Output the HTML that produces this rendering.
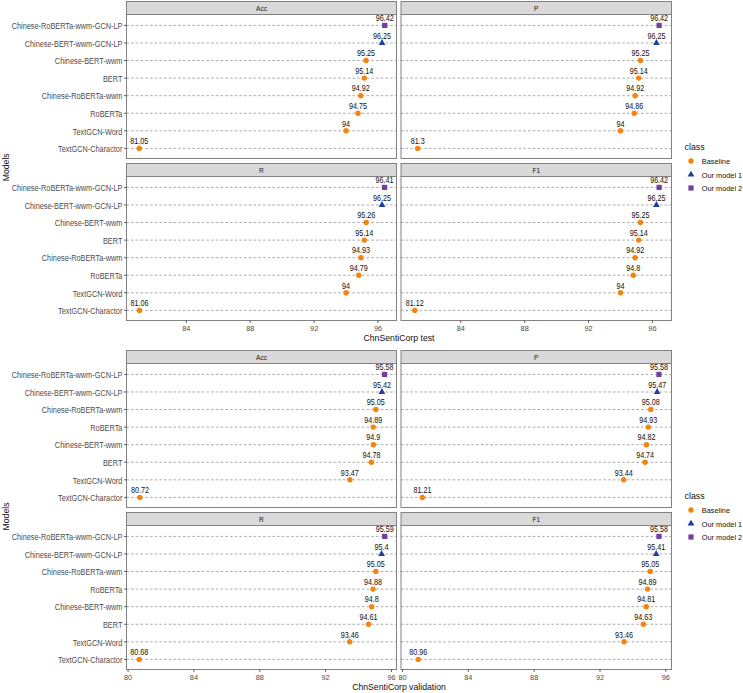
<!DOCTYPE html>
<html><head><meta charset="utf-8"><title>Models</title><style>
html,body{margin:0;padding:0;background:#fff;}
body{width:743px;height:693px;overflow:hidden;}
svg{display:block;font-family:"Liberation Sans",sans-serif;}
.g{stroke:#ababab;stroke-width:1;stroke-dasharray:2.6 2.11;}
.tk{stroke:#4d4d4d;stroke-width:1;}
.st{font-size:7.0px;fill:#1a1a1a;text-anchor:middle;}
.yt{font-size:7.35px;fill:#4D4D4D;text-anchor:end;}
.xt{font-size:7.35px;fill:#4D4D4D;text-anchor:middle;}
.lb{font-size:7.2px;fill:#111;text-anchor:middle;}
.tt{font-size:8.7px;fill:#111;text-anchor:middle;}
.lt{font-size:8.8px;fill:#111;}
.ll{font-size:7.35px;fill:#111;}
</style></head>
<body><svg width="743" height="693" viewBox="0 0 743 693">
<rect width="743" height="693" fill="#fff"/>
<rect x="126.5" y="1.5" width="270" height="13" fill="#D9D9D9" stroke="#828282" stroke-width="1"/>
<text class="st" transform="translate(261.5 11.3) scale(0.94 1.08)">Acc</text>
<line x1="126.34" y1="25.4" x2="396" y2="25.4" class="g"/>
<line x1="126.34" y1="42.97" x2="396" y2="42.97" class="g"/>
<line x1="126.34" y1="60.54" x2="396" y2="60.54" class="g"/>
<line x1="126.34" y1="78.11" x2="396" y2="78.11" class="g"/>
<line x1="126.34" y1="95.68" x2="396" y2="95.68" class="g"/>
<line x1="126.34" y1="113.25" x2="396" y2="113.25" class="g"/>
<line x1="126.34" y1="130.82" x2="396" y2="130.82" class="g"/>
<line x1="126.34" y1="148.39" x2="396" y2="148.39" class="g"/>
<rect x="126.5" y="14.5" width="270" height="144" fill="none" stroke="#828282" stroke-width="1"/>
<line x1="124.2" y1="25.4" x2="126.5" y2="25.4" class="tk"/>
<text class="yt" transform="translate(122.4 29.1) scale(1.0 1.11)">Chinese-RoBERTa-wwm-GCN-LP</text>
<line x1="124.2" y1="42.97" x2="126.5" y2="42.97" class="tk"/>
<text class="yt" transform="translate(122.4 46.67) scale(1.0 1.11)">Chinese-BERT-wwm-GCN-LP</text>
<line x1="124.2" y1="60.54" x2="126.5" y2="60.54" class="tk"/>
<text class="yt" transform="translate(122.4 64.24) scale(1.0 1.11)">Chinese-BERT-wwm</text>
<line x1="124.2" y1="78.11" x2="126.5" y2="78.11" class="tk"/>
<text class="yt" transform="translate(122.4 81.81) scale(1.0 1.11)">BERT</text>
<line x1="124.2" y1="95.68" x2="126.5" y2="95.68" class="tk"/>
<text class="yt" transform="translate(122.4 99.38) scale(1.0 1.11)">Chinese-RoBERTa-wwm</text>
<line x1="124.2" y1="113.25" x2="126.5" y2="113.25" class="tk"/>
<text class="yt" transform="translate(122.4 116.95) scale(1.0 1.11)">RoBERTa</text>
<line x1="124.2" y1="130.82" x2="126.5" y2="130.82" class="tk"/>
<text class="yt" transform="translate(122.4 134.52) scale(1.0 1.11)">TextGCN-Word</text>
<line x1="124.2" y1="148.39" x2="126.5" y2="148.39" class="tk"/>
<text class="yt" transform="translate(122.4 152.09) scale(1.0 1.11)">TextGCN-Charactor</text>
<rect x="382.13" y="22.8" width="5.2" height="5.2" fill="#7140A0"/>
<text class="lb" transform="translate(384.73 21.1) scale(1.0 1.15)">96.42</text>
<path d="M382.01 39.1L385.36 44.9L378.66 44.9Z" fill="#1F3F9F"/>
<text class="lb" transform="translate(382.01 38.67) scale(1.0 1.15)">96.25</text>
<circle cx="366.04" cy="60.54" r="2.7" fill="#F5840F"/>
<text class="lb" transform="translate(366.04 56.24) scale(1.0 1.15)">95.25</text>
<circle cx="364.29" cy="78.11" r="2.7" fill="#F5840F"/>
<text class="lb" transform="translate(364.29 73.81) scale(1.0 1.15)">95.14</text>
<circle cx="360.77" cy="95.68" r="2.7" fill="#F5840F"/>
<text class="lb" transform="translate(360.77 91.38) scale(1.0 1.15)">94.92</text>
<circle cx="358.06" cy="113.25" r="2.7" fill="#F5840F"/>
<text class="lb" transform="translate(358.06 108.95) scale(1.0 1.15)">94.75</text>
<circle cx="346.08" cy="130.82" r="2.7" fill="#F5840F"/>
<text class="lb" transform="translate(346.08 126.52) scale(1.0 1.15)">94</text>
<circle cx="139.27" cy="148.39" r="2.7" fill="#F5840F"/>
<text class="lb" transform="translate(139.27 144.09) scale(1.0 1.15)">81.05</text>
<rect x="401" y="1.5" width="270.5" height="13" fill="#D9D9D9" stroke="#828282" stroke-width="1"/>
<text class="st" transform="translate(536.25 11.3) scale(0.94 1.08)">P</text>
<line x1="400.84" y1="25.4" x2="671" y2="25.4" class="g"/>
<line x1="400.84" y1="42.97" x2="671" y2="42.97" class="g"/>
<line x1="400.84" y1="60.54" x2="671" y2="60.54" class="g"/>
<line x1="400.84" y1="78.11" x2="671" y2="78.11" class="g"/>
<line x1="400.84" y1="95.68" x2="671" y2="95.68" class="g"/>
<line x1="400.84" y1="113.25" x2="671" y2="113.25" class="g"/>
<line x1="400.84" y1="130.82" x2="671" y2="130.82" class="g"/>
<line x1="400.84" y1="148.39" x2="671" y2="148.39" class="g"/>
<rect x="401" y="14.5" width="270.5" height="144" fill="none" stroke="#828282" stroke-width="1"/>
<rect x="656.53" y="22.8" width="5.2" height="5.2" fill="#7140A0"/>
<text class="lb" transform="translate(659.13 21.1) scale(1.0 1.15)">96.42</text>
<path d="M656.41 39.1L659.76 44.9L653.06 44.9Z" fill="#1F3F9F"/>
<text class="lb" transform="translate(656.41 38.67) scale(1.0 1.15)">96.25</text>
<circle cx="640.44" cy="60.54" r="2.7" fill="#F5840F"/>
<text class="lb" transform="translate(640.44 56.24) scale(1.0 1.15)">95.25</text>
<circle cx="638.69" cy="78.11" r="2.7" fill="#F5840F"/>
<text class="lb" transform="translate(638.69 73.81) scale(1.0 1.15)">95.14</text>
<circle cx="635.17" cy="95.68" r="2.7" fill="#F5840F"/>
<text class="lb" transform="translate(635.17 91.38) scale(1.0 1.15)">94.92</text>
<circle cx="634.21" cy="113.25" r="2.7" fill="#F5840F"/>
<text class="lb" transform="translate(634.21 108.95) scale(1.0 1.15)">94.86</text>
<circle cx="620.48" cy="130.82" r="2.7" fill="#F5840F"/>
<text class="lb" transform="translate(620.48 126.52) scale(1.0 1.15)">94</text>
<circle cx="417.67" cy="148.39" r="2.7" fill="#F5840F"/>
<text class="lb" transform="translate(417.67 144.09) scale(1.0 1.15)">81.3</text>
<rect x="126.5" y="163.5" width="270" height="13" fill="#D9D9D9" stroke="#828282" stroke-width="1"/>
<text class="st" transform="translate(261.5 173.3) scale(0.94 1.08)">R</text>
<line x1="126.34" y1="187.4" x2="396" y2="187.4" class="g"/>
<line x1="126.34" y1="204.97" x2="396" y2="204.97" class="g"/>
<line x1="126.34" y1="222.54" x2="396" y2="222.54" class="g"/>
<line x1="126.34" y1="240.11" x2="396" y2="240.11" class="g"/>
<line x1="126.34" y1="257.68" x2="396" y2="257.68" class="g"/>
<line x1="126.34" y1="275.25" x2="396" y2="275.25" class="g"/>
<line x1="126.34" y1="292.82" x2="396" y2="292.82" class="g"/>
<line x1="126.34" y1="310.39" x2="396" y2="310.39" class="g"/>
<rect x="126.5" y="176.5" width="270" height="144" fill="none" stroke="#828282" stroke-width="1"/>
<line x1="124.2" y1="187.4" x2="126.5" y2="187.4" class="tk"/>
<text class="yt" transform="translate(122.4 191.1) scale(1.0 1.11)">Chinese-RoBERTa-wwm-GCN-LP</text>
<line x1="124.2" y1="204.97" x2="126.5" y2="204.97" class="tk"/>
<text class="yt" transform="translate(122.4 208.67) scale(1.0 1.11)">Chinese-BERT-wwm-GCN-LP</text>
<line x1="124.2" y1="222.54" x2="126.5" y2="222.54" class="tk"/>
<text class="yt" transform="translate(122.4 226.24) scale(1.0 1.11)">Chinese-BERT-wwm</text>
<line x1="124.2" y1="240.11" x2="126.5" y2="240.11" class="tk"/>
<text class="yt" transform="translate(122.4 243.81) scale(1.0 1.11)">BERT</text>
<line x1="124.2" y1="257.68" x2="126.5" y2="257.68" class="tk"/>
<text class="yt" transform="translate(122.4 261.38) scale(1.0 1.11)">Chinese-RoBERTa-wwm</text>
<line x1="124.2" y1="275.25" x2="126.5" y2="275.25" class="tk"/>
<text class="yt" transform="translate(122.4 278.95) scale(1.0 1.11)">RoBERTa</text>
<line x1="124.2" y1="292.82" x2="126.5" y2="292.82" class="tk"/>
<text class="yt" transform="translate(122.4 296.52) scale(1.0 1.11)">TextGCN-Word</text>
<line x1="124.2" y1="310.39" x2="126.5" y2="310.39" class="tk"/>
<text class="yt" transform="translate(122.4 314.09) scale(1.0 1.11)">TextGCN-Charactor</text>
<line x1="186.38" y1="320.5" x2="186.38" y2="322.8" class="tk"/>
<text x="186.38" y="330.6" class="xt">84</text>
<line x1="250.26" y1="320.5" x2="250.26" y2="322.8" class="tk"/>
<text x="250.26" y="330.6" class="xt">88</text>
<line x1="314.14" y1="320.5" x2="314.14" y2="322.8" class="tk"/>
<text x="314.14" y="330.6" class="xt">92</text>
<line x1="378.02" y1="320.5" x2="378.02" y2="322.8" class="tk"/>
<text x="378.02" y="330.6" class="xt">96</text>
<rect x="381.97" y="184.8" width="5.2" height="5.2" fill="#7140A0"/>
<text class="lb" transform="translate(384.57 183.1) scale(1.0 1.15)">96.41</text>
<path d="M382.01 201.1L385.36 206.9L378.66 206.9Z" fill="#1F3F9F"/>
<text class="lb" transform="translate(382.01 200.67) scale(1.0 1.15)">96.25</text>
<circle cx="366.2" cy="222.54" r="2.7" fill="#F5840F"/>
<text class="lb" transform="translate(366.2 218.24) scale(1.0 1.15)">95.26</text>
<circle cx="364.29" cy="240.11" r="2.7" fill="#F5840F"/>
<text class="lb" transform="translate(364.29 235.81) scale(1.0 1.15)">95.14</text>
<circle cx="360.93" cy="257.68" r="2.7" fill="#F5840F"/>
<text class="lb" transform="translate(360.93 253.38) scale(1.0 1.15)">94.93</text>
<circle cx="358.7" cy="275.25" r="2.7" fill="#F5840F"/>
<text class="lb" transform="translate(358.7 270.95) scale(1.0 1.15)">94.79</text>
<circle cx="346.08" cy="292.82" r="2.7" fill="#F5840F"/>
<text class="lb" transform="translate(346.08 288.52) scale(1.0 1.15)">94</text>
<circle cx="139.43" cy="310.39" r="2.7" fill="#F5840F"/>
<text class="lb" transform="translate(139.43 306.09) scale(1.0 1.15)">81.06</text>
<rect x="401" y="163.5" width="270.5" height="13" fill="#D9D9D9" stroke="#828282" stroke-width="1"/>
<text class="st" transform="translate(536.25 173.3) scale(0.94 1.08)">F1</text>
<line x1="400.84" y1="187.4" x2="671" y2="187.4" class="g"/>
<line x1="400.84" y1="204.97" x2="671" y2="204.97" class="g"/>
<line x1="400.84" y1="222.54" x2="671" y2="222.54" class="g"/>
<line x1="400.84" y1="240.11" x2="671" y2="240.11" class="g"/>
<line x1="400.84" y1="257.68" x2="671" y2="257.68" class="g"/>
<line x1="400.84" y1="275.25" x2="671" y2="275.25" class="g"/>
<line x1="400.84" y1="292.82" x2="671" y2="292.82" class="g"/>
<line x1="400.84" y1="310.39" x2="671" y2="310.39" class="g"/>
<rect x="401" y="176.5" width="270.5" height="144" fill="none" stroke="#828282" stroke-width="1"/>
<line x1="460.78" y1="320.5" x2="460.78" y2="322.8" class="tk"/>
<text x="460.78" y="330.6" class="xt">84</text>
<line x1="524.66" y1="320.5" x2="524.66" y2="322.8" class="tk"/>
<text x="524.66" y="330.6" class="xt">88</text>
<line x1="588.54" y1="320.5" x2="588.54" y2="322.8" class="tk"/>
<text x="588.54" y="330.6" class="xt">92</text>
<line x1="652.42" y1="320.5" x2="652.42" y2="322.8" class="tk"/>
<text x="652.42" y="330.6" class="xt">96</text>
<rect x="656.53" y="184.8" width="5.2" height="5.2" fill="#7140A0"/>
<text class="lb" transform="translate(659.13 183.1) scale(1.0 1.15)">96.42</text>
<path d="M656.41 201.1L659.76 206.9L653.06 206.9Z" fill="#1F3F9F"/>
<text class="lb" transform="translate(656.41 200.67) scale(1.0 1.15)">96.25</text>
<circle cx="640.44" cy="222.54" r="2.7" fill="#F5840F"/>
<text class="lb" transform="translate(640.44 218.24) scale(1.0 1.15)">95.25</text>
<circle cx="638.69" cy="240.11" r="2.7" fill="#F5840F"/>
<text class="lb" transform="translate(638.69 235.81) scale(1.0 1.15)">95.14</text>
<circle cx="635.17" cy="257.68" r="2.7" fill="#F5840F"/>
<text class="lb" transform="translate(635.17 253.38) scale(1.0 1.15)">94.92</text>
<circle cx="633.26" cy="275.25" r="2.7" fill="#F5840F"/>
<text class="lb" transform="translate(633.26 270.95) scale(1.0 1.15)">94.8</text>
<circle cx="620.48" cy="292.82" r="2.7" fill="#F5840F"/>
<text class="lb" transform="translate(620.48 288.52) scale(1.0 1.15)">94</text>
<circle cx="414.79" cy="310.39" r="2.7" fill="#F5840F"/>
<text class="lb" transform="translate(414.79 306.09) scale(1.0 1.15)">81.12</text>
<text x="399" y="341" class="tt">ChnSentiCorp test</text>
<text x="0" y="0" class="tt" transform="translate(8.5 167.3) rotate(-90)">Models</text>
<text x="684.6" y="149.6" class="lt">class</text>
<circle cx="691" cy="161" r="2.7" fill="#F5840F"/>
<text x="701.8" y="164.3" class="ll">Baseline</text>
<path d="M691 170.63L694.35 176.43L687.65 176.43Z" fill="#1F3F9F"/>
<text x="701.8" y="177.8" class="ll">Our model 1</text>
<rect x="688.4" y="185.4" width="5.2" height="5.2" fill="#7140A0"/>
<text x="701.8" y="191.3" class="ll">Our model 2</text>
<rect x="126.5" y="350.5" width="270" height="13" fill="#D9D9D9" stroke="#828282" stroke-width="1"/>
<text class="st" transform="translate(261.5 360.3) scale(0.94 1.08)">Acc</text>
<line x1="126.34" y1="374.4" x2="396" y2="374.4" class="g"/>
<line x1="126.34" y1="391.97" x2="396" y2="391.97" class="g"/>
<line x1="126.34" y1="409.54" x2="396" y2="409.54" class="g"/>
<line x1="126.34" y1="427.11" x2="396" y2="427.11" class="g"/>
<line x1="126.34" y1="444.68" x2="396" y2="444.68" class="g"/>
<line x1="126.34" y1="462.25" x2="396" y2="462.25" class="g"/>
<line x1="126.34" y1="479.82" x2="396" y2="479.82" class="g"/>
<line x1="126.34" y1="497.39" x2="396" y2="497.39" class="g"/>
<rect x="126.5" y="363.5" width="270" height="144" fill="none" stroke="#828282" stroke-width="1"/>
<line x1="124.2" y1="374.4" x2="126.5" y2="374.4" class="tk"/>
<text class="yt" transform="translate(122.4 378.1) scale(1.0 1.11)">Chinese-RoBERTa-wwm-GCN-LP</text>
<line x1="124.2" y1="391.97" x2="126.5" y2="391.97" class="tk"/>
<text class="yt" transform="translate(122.4 395.67) scale(1.0 1.11)">Chinese-BERT-wwm-GCN-LP</text>
<line x1="124.2" y1="409.54" x2="126.5" y2="409.54" class="tk"/>
<text class="yt" transform="translate(122.4 413.24) scale(1.0 1.11)">Chinese-RoBERTa-wwm</text>
<line x1="124.2" y1="427.11" x2="126.5" y2="427.11" class="tk"/>
<text class="yt" transform="translate(122.4 430.81) scale(1.0 1.11)">RoBERTa</text>
<line x1="124.2" y1="444.68" x2="126.5" y2="444.68" class="tk"/>
<text class="yt" transform="translate(122.4 448.38) scale(1.0 1.11)">Chinese-BERT-wwm</text>
<line x1="124.2" y1="462.25" x2="126.5" y2="462.25" class="tk"/>
<text class="yt" transform="translate(122.4 465.95) scale(1.0 1.11)">BERT</text>
<line x1="124.2" y1="479.82" x2="126.5" y2="479.82" class="tk"/>
<text class="yt" transform="translate(122.4 483.52) scale(1.0 1.11)">TextGCN-Word</text>
<line x1="124.2" y1="497.39" x2="126.5" y2="497.39" class="tk"/>
<text class="yt" transform="translate(122.4 501.09) scale(1.0 1.11)">TextGCN-Charactor</text>
<rect x="381.96" y="371.8" width="5.2" height="5.2" fill="#7140A0"/>
<text class="lb" transform="translate(384.56 370.1) scale(1.0 1.15)">95.58</text>
<path d="M381.93 388.1L385.28 393.9L378.58 393.9Z" fill="#1F3F9F"/>
<text class="lb" transform="translate(381.93 387.67) scale(1.0 1.15)">95.42</text>
<circle cx="375.84" cy="409.54" r="2.7" fill="#F5840F"/>
<text class="lb" transform="translate(375.84 405.24) scale(1.0 1.15)">95.05</text>
<circle cx="373.2" cy="427.11" r="2.7" fill="#F5840F"/>
<text class="lb" transform="translate(373.2 422.81) scale(1.0 1.15)">94.89</text>
<circle cx="373.37" cy="444.68" r="2.7" fill="#F5840F"/>
<text class="lb" transform="translate(373.37 440.38) scale(1.0 1.15)">94.9</text>
<circle cx="371.39" cy="462.25" r="2.7" fill="#F5840F"/>
<text class="lb" transform="translate(371.39 457.95) scale(1.0 1.15)">94.78</text>
<circle cx="349.83" cy="479.82" r="2.7" fill="#F5840F"/>
<text class="lb" transform="translate(349.83 475.52) scale(1.0 1.15)">93.47</text>
<circle cx="139.93" cy="497.39" r="2.7" fill="#F5840F"/>
<text class="lb" transform="translate(139.93 493.09) scale(1.0 1.15)">80.72</text>
<rect x="401" y="350.5" width="270.5" height="13" fill="#D9D9D9" stroke="#828282" stroke-width="1"/>
<text class="st" transform="translate(536.25 360.3) scale(0.94 1.08)">P</text>
<line x1="400.84" y1="374.4" x2="671" y2="374.4" class="g"/>
<line x1="400.84" y1="391.97" x2="671" y2="391.97" class="g"/>
<line x1="400.84" y1="409.54" x2="671" y2="409.54" class="g"/>
<line x1="400.84" y1="427.11" x2="671" y2="427.11" class="g"/>
<line x1="400.84" y1="444.68" x2="671" y2="444.68" class="g"/>
<line x1="400.84" y1="462.25" x2="671" y2="462.25" class="g"/>
<line x1="400.84" y1="479.82" x2="671" y2="479.82" class="g"/>
<line x1="400.84" y1="497.39" x2="671" y2="497.39" class="g"/>
<rect x="401" y="363.5" width="270.5" height="144" fill="none" stroke="#828282" stroke-width="1"/>
<rect x="656.36" y="371.8" width="5.2" height="5.2" fill="#7140A0"/>
<text class="lb" transform="translate(658.96 370.1) scale(1.0 1.15)">95.58</text>
<path d="M657.15 388.1L660.5 393.9L653.8 393.9Z" fill="#1F3F9F"/>
<text class="lb" transform="translate(657.15 387.67) scale(1.0 1.15)">95.47</text>
<circle cx="650.73" cy="409.54" r="2.7" fill="#F5840F"/>
<text class="lb" transform="translate(650.73 405.24) scale(1.0 1.15)">95.08</text>
<circle cx="648.26" cy="427.11" r="2.7" fill="#F5840F"/>
<text class="lb" transform="translate(648.26 422.81) scale(1.0 1.15)">94.93</text>
<circle cx="646.45" cy="444.68" r="2.7" fill="#F5840F"/>
<text class="lb" transform="translate(646.45 440.38) scale(1.0 1.15)">94.82</text>
<circle cx="645.13" cy="462.25" r="2.7" fill="#F5840F"/>
<text class="lb" transform="translate(645.13 457.95) scale(1.0 1.15)">94.74</text>
<circle cx="623.73" cy="479.82" r="2.7" fill="#F5840F"/>
<text class="lb" transform="translate(623.73 475.52) scale(1.0 1.15)">93.44</text>
<circle cx="422.4" cy="497.39" r="2.7" fill="#F5840F"/>
<text class="lb" transform="translate(422.4 493.09) scale(1.0 1.15)">81.21</text>
<rect x="126.5" y="512.5" width="270" height="13" fill="#D9D9D9" stroke="#828282" stroke-width="1"/>
<text class="st" transform="translate(261.5 522.3) scale(0.94 1.08)">R</text>
<line x1="126.34" y1="536.4" x2="396" y2="536.4" class="g"/>
<line x1="126.34" y1="553.97" x2="396" y2="553.97" class="g"/>
<line x1="126.34" y1="571.54" x2="396" y2="571.54" class="g"/>
<line x1="126.34" y1="589.11" x2="396" y2="589.11" class="g"/>
<line x1="126.34" y1="606.68" x2="396" y2="606.68" class="g"/>
<line x1="126.34" y1="624.25" x2="396" y2="624.25" class="g"/>
<line x1="126.34" y1="641.82" x2="396" y2="641.82" class="g"/>
<line x1="126.34" y1="659.39" x2="396" y2="659.39" class="g"/>
<rect x="126.5" y="525.5" width="270" height="144" fill="none" stroke="#828282" stroke-width="1"/>
<line x1="124.2" y1="536.4" x2="126.5" y2="536.4" class="tk"/>
<text class="yt" transform="translate(122.4 540.1) scale(1.0 1.11)">Chinese-RoBERTa-wwm-GCN-LP</text>
<line x1="124.2" y1="553.97" x2="126.5" y2="553.97" class="tk"/>
<text class="yt" transform="translate(122.4 557.67) scale(1.0 1.11)">Chinese-BERT-wwm-GCN-LP</text>
<line x1="124.2" y1="571.54" x2="126.5" y2="571.54" class="tk"/>
<text class="yt" transform="translate(122.4 575.24) scale(1.0 1.11)">Chinese-RoBERTa-wwm</text>
<line x1="124.2" y1="589.11" x2="126.5" y2="589.11" class="tk"/>
<text class="yt" transform="translate(122.4 592.81) scale(1.0 1.11)">RoBERTa</text>
<line x1="124.2" y1="606.68" x2="126.5" y2="606.68" class="tk"/>
<text class="yt" transform="translate(122.4 610.38) scale(1.0 1.11)">Chinese-BERT-wwm</text>
<line x1="124.2" y1="624.25" x2="126.5" y2="624.25" class="tk"/>
<text class="yt" transform="translate(122.4 627.95) scale(1.0 1.11)">BERT</text>
<line x1="124.2" y1="641.82" x2="126.5" y2="641.82" class="tk"/>
<text class="yt" transform="translate(122.4 645.52) scale(1.0 1.11)">TextGCN-Word</text>
<line x1="124.2" y1="659.39" x2="126.5" y2="659.39" class="tk"/>
<text class="yt" transform="translate(122.4 663.09) scale(1.0 1.11)">TextGCN-Charactor</text>
<line x1="128.08" y1="669.5" x2="128.08" y2="671.8" class="tk"/>
<text x="128.08" y="679.6" class="xt">80</text>
<line x1="193.93" y1="669.5" x2="193.93" y2="671.8" class="tk"/>
<text x="193.93" y="679.6" class="xt">84</text>
<line x1="259.78" y1="669.5" x2="259.78" y2="671.8" class="tk"/>
<text x="259.78" y="679.6" class="xt">88</text>
<line x1="325.63" y1="669.5" x2="325.63" y2="671.8" class="tk"/>
<text x="325.63" y="679.6" class="xt">92</text>
<line x1="391.48" y1="669.5" x2="391.48" y2="671.8" class="tk"/>
<text x="391.48" y="679.6" class="xt">96</text>
<rect x="382.13" y="533.8" width="5.2" height="5.2" fill="#7140A0"/>
<text class="lb" transform="translate(384.73 532.1) scale(1.0 1.15)">95.59</text>
<path d="M381.6 550.1L384.95 555.9L378.25 555.9Z" fill="#1F3F9F"/>
<text class="lb" transform="translate(381.6 549.67) scale(1.0 1.15)">95.4</text>
<circle cx="375.84" cy="571.54" r="2.7" fill="#F5840F"/>
<text class="lb" transform="translate(375.84 567.24) scale(1.0 1.15)">95.05</text>
<circle cx="373.04" cy="589.11" r="2.7" fill="#F5840F"/>
<text class="lb" transform="translate(373.04 584.81) scale(1.0 1.15)">94.88</text>
<circle cx="371.72" cy="606.68" r="2.7" fill="#F5840F"/>
<text class="lb" transform="translate(371.72 602.38) scale(1.0 1.15)">94.8</text>
<circle cx="368.59" cy="624.25" r="2.7" fill="#F5840F"/>
<text class="lb" transform="translate(368.59 619.95) scale(1.0 1.15)">94.61</text>
<circle cx="349.66" cy="641.82" r="2.7" fill="#F5840F"/>
<text class="lb" transform="translate(349.66 637.52) scale(1.0 1.15)">93.46</text>
<circle cx="139.27" cy="659.39" r="2.7" fill="#F5840F"/>
<text class="lb" transform="translate(139.27 655.09) scale(1.0 1.15)">80.68</text>
<rect x="401" y="512.5" width="270.5" height="13" fill="#D9D9D9" stroke="#828282" stroke-width="1"/>
<text class="st" transform="translate(536.25 522.3) scale(0.94 1.08)">F1</text>
<line x1="400.84" y1="536.4" x2="671" y2="536.4" class="g"/>
<line x1="400.84" y1="553.97" x2="671" y2="553.97" class="g"/>
<line x1="400.84" y1="571.54" x2="671" y2="571.54" class="g"/>
<line x1="400.84" y1="589.11" x2="671" y2="589.11" class="g"/>
<line x1="400.84" y1="606.68" x2="671" y2="606.68" class="g"/>
<line x1="400.84" y1="624.25" x2="671" y2="624.25" class="g"/>
<line x1="400.84" y1="641.82" x2="671" y2="641.82" class="g"/>
<line x1="400.84" y1="659.39" x2="671" y2="659.39" class="g"/>
<rect x="401" y="525.5" width="270.5" height="144" fill="none" stroke="#828282" stroke-width="1"/>
<line x1="402.48" y1="669.5" x2="402.48" y2="671.8" class="tk"/>
<text x="402.48" y="679.6" class="xt">80</text>
<line x1="468.33" y1="669.5" x2="468.33" y2="671.8" class="tk"/>
<text x="468.33" y="679.6" class="xt">84</text>
<line x1="534.18" y1="669.5" x2="534.18" y2="671.8" class="tk"/>
<text x="534.18" y="679.6" class="xt">88</text>
<line x1="600.03" y1="669.5" x2="600.03" y2="671.8" class="tk"/>
<text x="600.03" y="679.6" class="xt">92</text>
<line x1="665.88" y1="669.5" x2="665.88" y2="671.8" class="tk"/>
<text x="665.88" y="679.6" class="xt">96</text>
<rect x="656.36" y="533.8" width="5.2" height="5.2" fill="#7140A0"/>
<text class="lb" transform="translate(658.96 532.1) scale(1.0 1.15)">95.58</text>
<path d="M656.16 550.1L659.51 555.9L652.81 555.9Z" fill="#1F3F9F"/>
<text class="lb" transform="translate(656.16 549.67) scale(1.0 1.15)">95.41</text>
<circle cx="650.24" cy="571.54" r="2.7" fill="#F5840F"/>
<text class="lb" transform="translate(650.24 567.24) scale(1.0 1.15)">95.05</text>
<circle cx="647.6" cy="589.11" r="2.7" fill="#F5840F"/>
<text class="lb" transform="translate(647.6 584.81) scale(1.0 1.15)">94.89</text>
<circle cx="646.29" cy="606.68" r="2.7" fill="#F5840F"/>
<text class="lb" transform="translate(646.29 602.38) scale(1.0 1.15)">94.81</text>
<circle cx="643.32" cy="624.25" r="2.7" fill="#F5840F"/>
<text class="lb" transform="translate(643.32 619.95) scale(1.0 1.15)">94.63</text>
<circle cx="624.06" cy="641.82" r="2.7" fill="#F5840F"/>
<text class="lb" transform="translate(624.06 637.52) scale(1.0 1.15)">93.46</text>
<circle cx="418.28" cy="659.39" r="2.7" fill="#F5840F"/>
<text class="lb" transform="translate(418.28 655.09) scale(1.0 1.15)">80.96</text>
<text x="399" y="690" class="tt">ChnSentiCorp validation</text>
<text x="0" y="0" class="tt" transform="translate(8.5 516.5) rotate(-90)">Models</text>
<text x="684.6" y="498.6" class="lt">class</text>
<circle cx="691" cy="510" r="2.7" fill="#F5840F"/>
<text x="701.8" y="513.3" class="ll">Baseline</text>
<path d="M691 519.63L694.35 525.43L687.65 525.43Z" fill="#1F3F9F"/>
<text x="701.8" y="526.8" class="ll">Our model 1</text>
<rect x="688.4" y="534.4" width="5.2" height="5.2" fill="#7140A0"/>
<text x="701.8" y="540.3" class="ll">Our model 2</text>
</svg></body></html>
